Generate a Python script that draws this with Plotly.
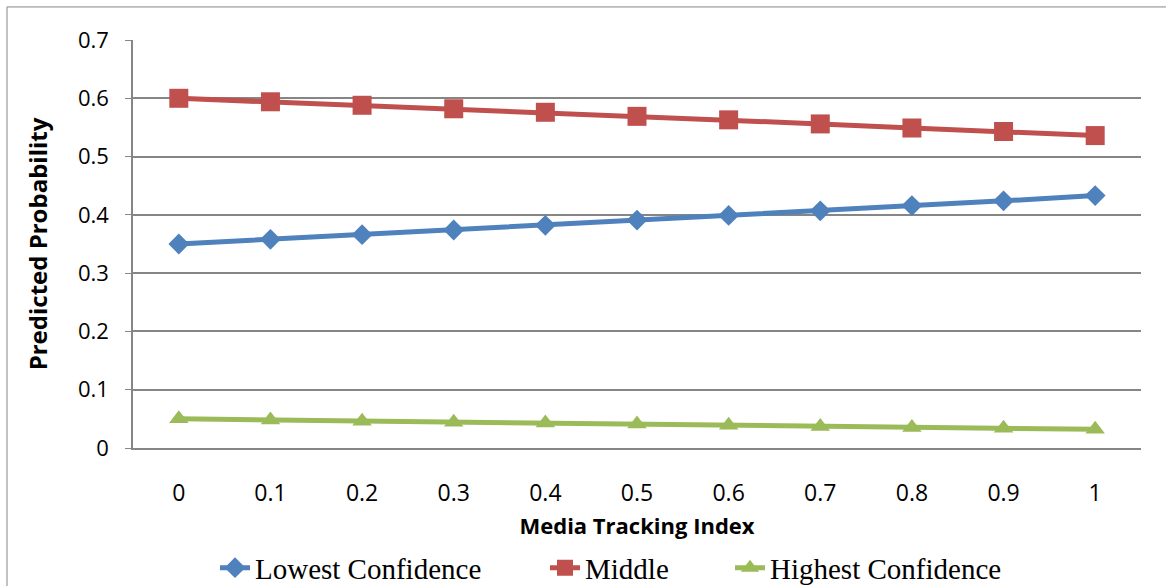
import plotly.graph_objects as go

x_labels = ["0", "0.1", "0.2", "0.3", "0.4", "0.5", "0.6", "0.7", "0.8", "0.9", "1"]
lowest = [0.350, 0.358, 0.366, 0.374, 0.382, 0.391, 0.399, 0.407, 0.416, 0.424, 0.433]
middle = [0.600, 0.594, 0.588, 0.582, 0.576, 0.569, 0.563, 0.556, 0.549, 0.543, 0.536]
highest = [0.050, 0.048, 0.046, 0.044, 0.043, 0.041, 0.039, 0.037, 0.035, 0.034, 0.032]
y_ticks = [0, 0.1, 0.2, 0.3, 0.4, 0.5, 0.6, 0.7]
y_tick_labels = ["0", "0.1", "0.2", "0.3", "0.4", "0.5", "0.6", "0.7"]

fig = go.Figure()
fig.add_trace(go.Scatter(x=x_labels, y=lowest, name="Lowest Confidence", mode="lines+markers",
                         line=dict(color="#4F81BD", width=5), legend="legend",
                         marker=dict(symbol="diamond", size=16, color="#4F81BD")))
fig.add_trace(go.Scatter(x=x_labels, y=middle, name="Middle", mode="lines+markers",
                         line=dict(color="#C0504D", width=5), legend="legend2",
                         marker=dict(symbol="square", size=19, color="#C0504D")))
fig.add_trace(go.Scatter(x=x_labels, y=highest, name="Highest Confidence", mode="lines+markers",
                         line=dict(color="#9BBB59", width=5), legend="legend3",
                         marker=dict(symbol="triangle-up", size=17, color="#9BBB59")))

leg_font = dict(family="Liberation Serif, Times New Roman, serif", size=29, color="black")
leg_common = dict(orientation="h", xref="container", yref="container", y=0.031,
                  yanchor="middle", xanchor="left", font=leg_font, itemwidth=30,
                  bgcolor="rgba(0,0,0,0)")

fig.update_layout(
    width=1166, height=586, autosize=False,
    margin=dict(l=133, r=25, t=40, b=138),
    paper_bgcolor="white", plot_bgcolor="white",
    font=dict(family="Open Sans, Noto Sans, sans-serif", color="black"),
    xaxis=dict(type="category", range=[-0.5, 10.5], showgrid=False, showline=True,
               linecolor="#868686", linewidth=1.5, ticks="", tickfont=dict(size=23),
               ticklabelstandoff=24, automargin=False,
               title=dict(text="<b>Media Tracking Index</b>", font=dict(size=22), standoff=11)),
    yaxis=dict(range=[0, 0.7], tickvals=y_ticks, ticktext=y_tick_labels, showgrid=True,
               gridcolor="#868686", gridwidth=1.5, showline=True, linecolor="#868686", linewidth=1.5,
               ticks="outside", ticklen=6, tickcolor="#868686", tickfont=dict(size=22),
               ticklabelstandoff=12, zeroline=False, automargin=False,
               title=dict(text="<b>Predicted Probability</b>", font=dict(size=24), standoff=24)),
    legend=dict(x=215 / 1166, **leg_common),
    legend2=dict(x=545 / 1166, **leg_common),
    legend3=dict(x=730 / 1166, **leg_common),
    showlegend=True,
)
fig.add_shape(type="rect", xref="paper", yref="paper", x0=-0.125, x1=1.2, y0=-0.6, y1=1.081,
              line=dict(color="#868686", width=1), layer="below")

fig.write_html("out.html", config={"responsive": False, "displayModeBar": False},
               post_script="document.body.style.margin='0';document.body.style.overflow='hidden';")
